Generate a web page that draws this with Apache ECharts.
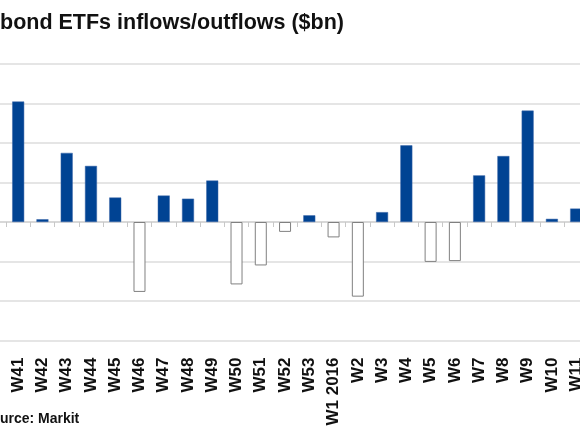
<!DOCTYPE html>
<html lang="en">
<head>
<meta charset="UTF-8">
<title>bond ETFs inflows/outflows</title>
<script src="https://cdn.jsdelivr.net/npm/echarts@6/dist/echarts.min.js"></script>
<style>
html, body { margin: 0; padding: 0; background: #fff; overflow: hidden; }
</style>
</head>
<body>
<!-- the picture is a crop of a wider chart, so the chart is drawn wider and shifted left -->
<div id="main" style="width: 620px;height:435px;margin-left:-20px;"></div>
<script type="text/javascript">
// weekly flows, $bn
const weeks = ['W40', 'W41', 'W42', 'W43', 'W44', 'W45', 'W46', 'W47', 'W48', 'W49', 'W50', 'W51', 'W52', 'W53',
  'W1 2016', 'W2', 'W3', 'W4', 'W5', 'W6', 'W7', 'W8', 'W9', 'W10', 'W11'];
const flows = [-0.79, 3.05, 0.07, 1.75, 1.42, 0.62, -1.77, 0.67, 0.59, 1.05, -1.58, -1.10, -0.25, 0.17,
  -0.39, -1.89, 0.25, 1.94, -1.01, -0.99, 1.18, 1.67, 2.82, 0.08, 0.34];
const yTicks = [-3, -2, -1, 0, 1, 2, 3, 4];

const inflowColor = '#004393';

// inflows solid blue, outflows hollow
const barData = flows.map((v) => ({
  value: v,
  itemStyle: v >= 0
    ? { color: inflowColor, borderColor: '#3a66a8', borderWidth: 0.5 }
    : { color: '#ffffff', borderColor: '#808080', borderWidth: 1 }
}));

let options = {
  animation: false,
  title: {
    text: 'bond ETFs inflows/outflows ($bn)',
    left: 20,
    top: 12,
    padding: 0,
    textStyle: { fontFamily: 'Liberation Sans', fontSize: 21.5, fontWeight: 'bold', color: '#111' }
  },
  graphic: [{
    type: 'text',
    left: 2,
    top: 412,
    style: { text: 'Source: Markit', font: 'bold 14px "Liberation Sans"', fill: '#111' }
  }],
  grid: { left: 1.8, right: 11.7, top: 64, bottom: 94.5 },
  xAxis: [{
    type: 'category',
    data: weeks,
    position: 'bottom',
    axisLine: { show: false, onZero: false },
    axisTick: { show: false },
    axisLabel: {
      interval: 0,
      rotate: 90,
      margin: 17,
      fontFamily: 'Liberation Sans',
      fontSize: 17,
      fontWeight: 'bold',
      color: '#111'
    }
  }, {
    type: 'category',
    data: weeks,
    position: 'bottom',
    axisLine: { show: true, onZero: true, lineStyle: { color: '#d4d4d4', width: 1.5 } },
    axisTick: { show: true, interval: 0, length: 5, lineStyle: { color: '#c8c8c8' } },
    axisLabel: { show: false }
  }],
  yAxis: {
    type: 'value',
    min: yTicks[0],
    max: yTicks[yTicks.length - 1],
    interval: 1,
    axisLabel: { show: false },
    axisLine: { show: false },
    axisTick: { show: false },
    splitLine: { lineStyle: { color: '#dcdcdc', width: 1.5 } }
  },
  series: [{
    name: 'flows',
    type: 'bar',
    xAxisIndex: 0,
    barWidth: 12,
    data: barData
  }]
};

let myChart = echarts.init(document.getElementById('main'));
myChart.setOption(options);
</script>
</body>
</html>
